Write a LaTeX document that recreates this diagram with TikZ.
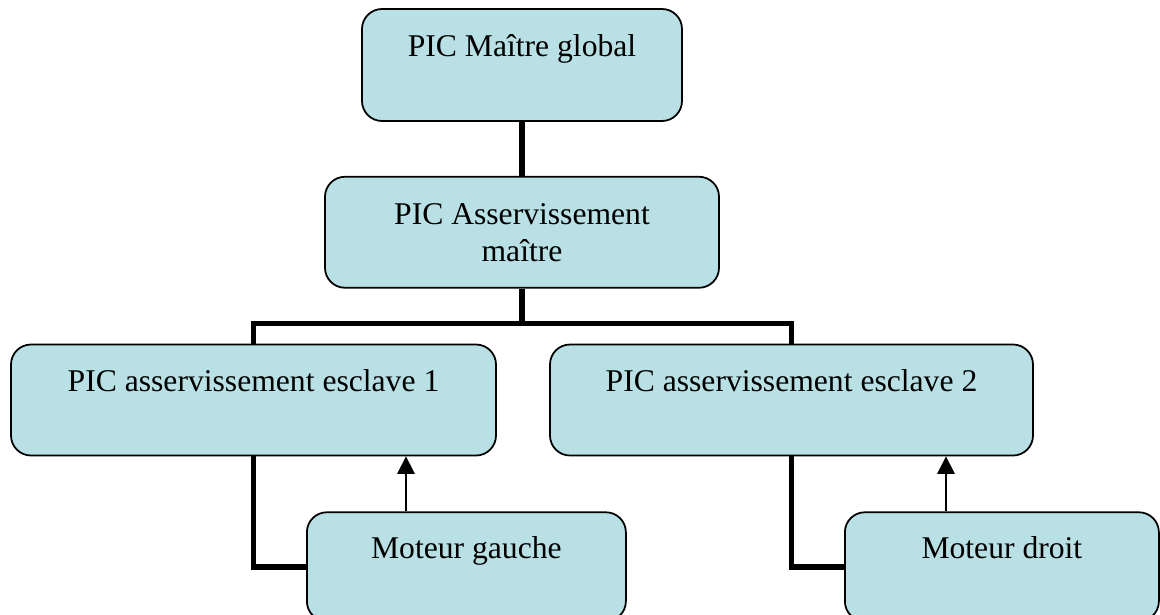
\documentclass[tikz,border=0pt]{standalone}
\usepackage{fontspec}
\setmainfont{Liberation Serif}
\usetikzlibrary{arrows.meta,positioning}
\definecolor{boxfill}{HTML}{B9E0E4}
\tikzset{
  box/.style={draw=black, fill=boxfill, line width=1pt, rounded corners=0.4cm, align=center,
    font=\fontsize{18}{21}\selectfont, inner sep=2pt, minimum height=2.22cm},
  bus/.style={line width=3.2pt, black},
  fb/.style={-{Triangle[length=10pt, width=10pt]}, line width=0.8pt, black},
}
\newcommand{\boxlines}[2]{\strut #1\\\rule[-2.9pt]{0pt}{14.7pt}#2}

\begin{document}
\begin{tikzpicture}[node distance=1.1cm and 1.05cm]
    \useasboundingbox (0,0) rectangle (23.2,-12.3);

    \node[box, minimum width=6.4cm, minimum height=2.24cm] (global) at (10.44,-1.30) {\boxlines{PIC Maître global}{}};
    \node[box, minimum width=7.88cm, below=1.08cm of global] (asserv) {\boxlines{PIC Asservissement}{maître}};
    \node[box, minimum width=9.7cm, below=of asserv, xshift=-5.37cm] (esc1) {\boxlines{PIC asservissement esclave 1}{}};
    \node[box, minimum width=9.66cm, below=of asserv, xshift=5.39cm] (esc2) {\boxlines{PIC asservissement esclave 2}{}};
    \node[box, minimum width=6.38cm, minimum height=2.18cm, below right=of esc1.south] (motG) {\boxlines{Moteur gauche}{}};
    \node[box, minimum width=6.28cm, minimum height=2.18cm, below right=of esc2.south] (motD) {\boxlines{Moteur droit}{}};

    \coordinate[below=0.7cm of asserv.south] (split);

    \draw[bus] (global) -- (asserv);
    \draw[bus] (asserv.south) -- (split);
    \draw[bus] (esc1.north) |- (split) -| (esc2.north);
    \draw[bus] (esc1.south) |- (motG.west);
    \draw[bus] (esc2.south) |- (motD.west);
    \draw[fb] ([xshift=2cm]motG.north west) coordinate (fg) -- (fg |- esc1.south);
    \draw[fb] ([xshift=2.04cm]motD.north west) coordinate (fd) -- (fd |- esc2.south);
  \end{tikzpicture}
\end{document}
